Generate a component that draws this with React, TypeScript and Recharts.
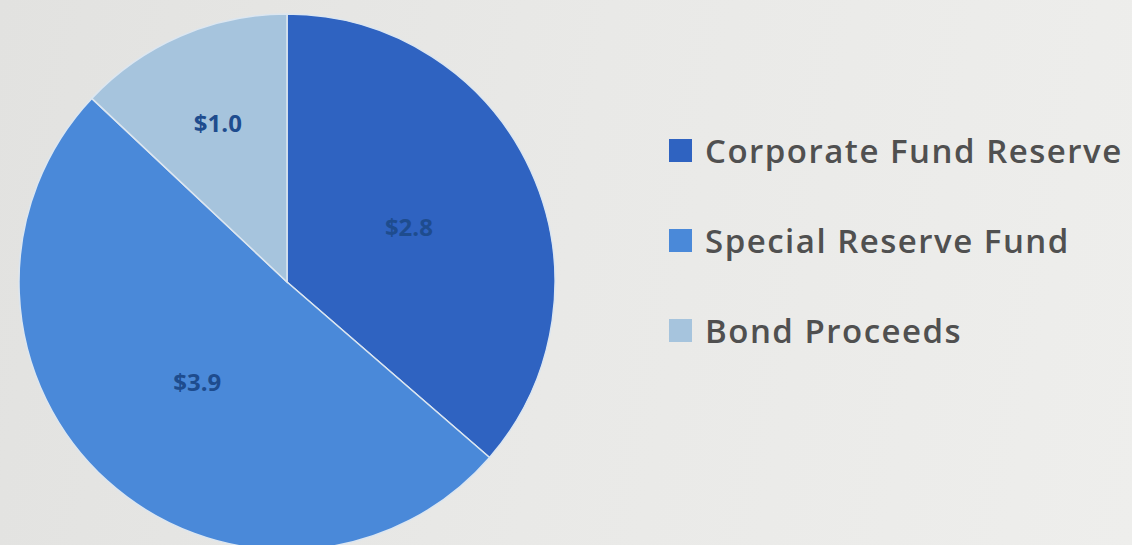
import { PieChart, Pie, Cell, Legend } from 'recharts'

const categories = ['Corporate Fund Reserve', 'Special Reserve Fund', 'Bond Proceeds']
const amounts = [2.8, 3.9, 1.0]
const sliceColors = ['#2F63C1', '#4A89D9', '#A6C4DD']

const data = categories.map((name, i) => ({ name, value: amounts[i] }))

const RADIAN = Math.PI / 180

// Excel puts the small slice's label further out, so push it a bit
const renderLabel = ({ cx, cy, midAngle, outerRadius, percent, value }: any) => {
  const f = percent < 0.2 ? 0.65 : 0.5
  const r = outerRadius * f
  const x = cx + r * Math.cos(-midAngle * RADIAN)
  const y = cy + r * Math.sin(-midAngle * RADIAN)
  return (
    <text
      x={x}
      y={y}
      fill="#1E4C8E"
      textAnchor="middle"
      dominantBaseline="central"
      fontFamily="'Open Sans', sans-serif"
      fontWeight={700}
      fontSize={24}
    >
      ${value.toFixed(1)}
    </text>
  )
}

const LegendList = () => (
  <div style={{ display: 'flex', flexDirection: 'column' }}>
    {categories.map((name, i) => (
      <div key={name} style={{ display: 'flex', alignItems: 'center', height: 90 }}>
        <span
          style={{
            width: 23,
            height: 23,
            background: sliceColors[i],
            display: 'inline-block',
            marginRight: 13,
          }}
        />
        <span
          style={{
            fontFamily: "'Open Sans', sans-serif",
            fontSize: 33,
            fontWeight: 600,
            color: '#505050',
            letterSpacing: 1.5,
            whiteSpace: 'nowrap',
          }}
        >
          {name}
        </span>
      </div>
    ))}
  </div>
)

export default function App() {
  return (
    <div
      style={{
        position: 'absolute',
        left: 0,
        top: 0,
        width: 1132,
        height: 545,
        overflow: 'hidden',
        background: 'linear-gradient(100deg, #E2E2E0 0%, #E9E9E7 50%, #EEEEEC 100%)',
      }}
    >
      <PieChart width={1132} height={545} margin={{ top: 0, right: 0, bottom: 0, left: 0 }}>
        <Pie
          data={data}
          dataKey="value"
          nameKey="name"
          cx={287}
          cy={282}
          outerRadius={268}
          startAngle={90}
          endAngle={-270}
          label={renderLabel}
          labelLine={false}
          stroke="#DCE6F0"
          strokeWidth={1.5}
          isAnimationActive={false}
        >
          {data.map((d, i) => (
            <Cell key={d.name} fill={sliceColors[i]} />
          ))}
        </Pie>
        <Legend
          content={<LegendList />}
          wrapperStyle={{ left: 669, top: 105, width: 463 }}
        />
      </PieChart>
    </div>
  )
}
